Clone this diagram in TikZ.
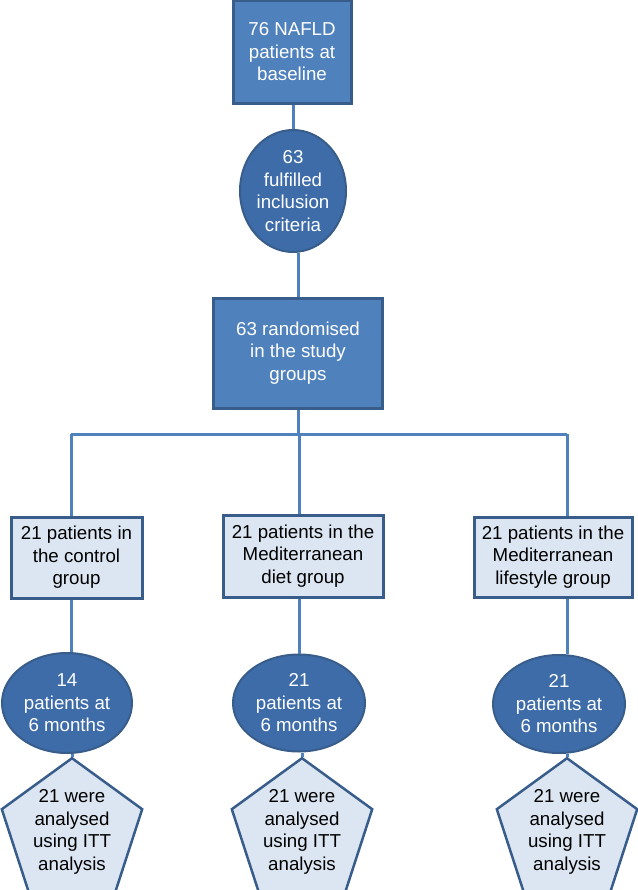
\documentclass[tikz,border=0pt]{standalone}
\usepackage{fontspec}
\setmainfont{Liberation Sans}
\usetikzlibrary{shapes.geometric}
\definecolor{boxblue}{HTML}{4F81BD}
\definecolor{ovalblue}{HTML}{3D6CA9}
\definecolor{edgeblue}{HTML}{385D8A}
\definecolor{paleblue}{HTML}{DCE6F2}
\definecolor{linkblue}{HTML}{4F81BD}
\tikzset{
  bigbox/.style={rectangle,fill=boxblue,draw=edgeblue,line width=3pt,text=white,align=center,inner sep=0pt},
  oval/.style={ellipse,fill=ovalblue,draw=edgeblue,line width=2pt,text=white,align=center,inner sep=0pt},
  groupbox/.style={rectangle,fill=paleblue,draw=edgeblue,line width=3pt,text=black,align=center,inner sep=0pt},
  pent/.style={regular polygon,regular polygon sides=5,minimum size=144pt,fill=paleblue,draw=edgeblue,line width=2.5pt,text=black,align=center,inner sep=0pt},
  link/.style={draw=linkblue,line width=3pt}
}
\begin{document}
\begin{tikzpicture}
  [x=1pt,y=-1pt,every node/.style={font=\fontsize{18.7}{22.5}\selectfont}]
  \useasboundingbox (0,0) rectangle (637,890);
  \node[bigbox,minimum width=118pt,minimum height=103pt] (base) at (292,52) {76 NAFLD\\patients at\\baseline};
  \node[oval,minimum width=106pt,minimum height=122pt] (incl) at (293,191) {63\\fulfilled\\inclusion\\criteria};
  \node[bigbox,minimum width=169pt,minimum height=110pt] (rand) at (298,353) {63 randomised\\in the study\\groups};

  \coordinate (busL) at (71,434);
  \coordinate (busM) at (299,434);
  \coordinate (busR) at (567,434);

  \node[groupbox,minimum width=131pt,minimum height=81pt] (ctrl) at (76.5,557.5) {21 patients in\\the control\\group};
  \node[groupbox,minimum width=160pt,minimum height=82pt] (diet) at (303,556) {21 patients in the\\Mediterranean\\diet group};
  \node[groupbox,minimum width=158pt,minimum height=80pt] (life) at (553,557) {21 patients in the\\Mediterranean\\lifestyle group};

  \node[oval,minimum width=130pt,minimum height=100pt] (sixL) at (67,703) {14\\patients at\\6 months};
  \node[oval,minimum width=132pt,minimum height=97pt] (sixM) at (299,703) {21\\patients at\\6 months};
  \node[oval,minimum width=132pt,minimum height=98pt] (sixR) at (559,704) {21\\patients at\\6 months};

  \node[pent] (ittL) at (72,832) {21 were\\analysed\\using ITT\\analysis};
  \node[pent] (ittM) at (302,832) {21 were\\analysed\\using ITT\\analysis};
  \node[pent] (ittR) at (567,832) {21 were\\analysed\\using ITT\\analysis};

  \draw[link] (rand) -- (rand |- busL);
  \draw[link] (busL) -- (busR);
\foreach \col/\dn in {busL/ctrl, busM/diet, busR/life}
    \draw[link] (\col) -- (\col |- \dn.north);
\foreach \col/\up/\dn in {busL/ctrl/sixL, busM/diet/sixM, busR/life/sixR}
    \draw[link] (\col |- \up.south) -- (\col |- \dn.north);
\foreach \up/\dn in {base/incl, incl/rand, sixL/ittL, sixM/ittM, sixR/ittR}
    \draw[link] (\dn.north) -- (\dn.north |- \up.south);
\end{tikzpicture}
\end{document}
